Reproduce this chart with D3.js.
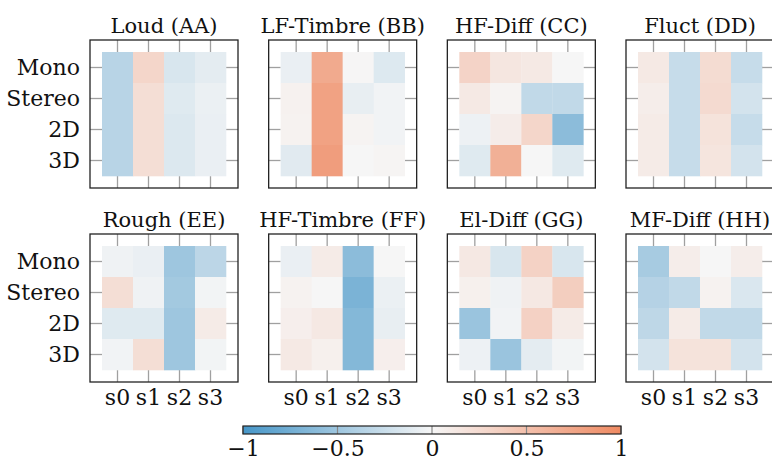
<!DOCTYPE html>
<html><head><meta charset="utf-8">
<script src="https://cdn.jsdelivr.net/npm/d3@7"></script>
<style>
body{margin:0;background:#fff}
svg{display:block}
svg text{font-family:"DejaVu Serif",serif !important;fill:#111}
</style></head><body>
<svg id="c" width="772" height="463"></svg>
<script>
const titles = ["Loud (AA)","LF-Timbre (BB)","HF-Diff (CC)","Fluct (DD)","Rough (EE)","HF-Timbre (FF)","El-Diff (GG)","MF-Diff (HH)"];
const rowLabels = ["Mono","Stereo","2D","3D"];
const colLabels = ["s0","s1","s2","s3"];
// each array: rows (Mono, Stereo, 2D, 3D) x columns (s0..s3)
const loudAA     = [[-0.35,0.30,-0.17,-0.10],[-0.35,0.22,-0.13,-0.06],[-0.35,0.22,-0.15,-0.07],[-0.35,0.22,-0.15,-0.07]];
const lfTimbreBB = [[-0.07,0.70,0.01,-0.14],[0.05,0.78,-0.08,-0.03],[0.04,0.78,0.03,-0.03],[-0.12,0.82,0.00,0.02]];
const hfDiffCC   = [[0.32,0.15,0.12,0.00],[0.12,0.03,-0.30,-0.30],[-0.05,0.09,0.30,-0.60],[-0.13,0.65,0.00,-0.13]];
const fluctDD    = [[0.12,-0.27,0.24,-0.27],[0.08,-0.27,0.26,-0.20],[0.10,-0.27,0.18,-0.27],[0.10,-0.27,0.16,-0.20]];
const roughEE    = [[-0.04,-0.07,-0.50,-0.33],[0.22,-0.04,-0.47,-0.02],[-0.13,-0.13,-0.50,0.10],[-0.03,0.22,-0.50,-0.02]];
const hfTimbreFF = [[-0.07,0.10,-0.60,0.00],[0.04,0.00,-0.70,-0.06],[0.07,0.13,-0.65,-0.08],[0.12,0.06,-0.65,0.07]];
const elDiffGG   = [[0.13,-0.17,0.33,-0.17],[0.06,-0.04,0.13,0.37],[-0.52,-0.03,0.34,0.10],[-0.05,-0.52,-0.10,-0.02]];
const mfDiffHH   = [[-0.45,0.08,0.00,0.08],[-0.37,-0.30,0.04,-0.16],[-0.32,0.10,-0.30,-0.30],[-0.20,0.18,0.18,-0.20]];
const panelValues = [loudAA,lfTimbreBB,hfDiffCC,fluctDD,roughEE,hfTimbreFF,elDiffGG,mfDiffHH];
const cbTicks = [-1,-0.5,0,0.5,1];

const FONT = '"DejaVu Serif",serif';
const FS = 22, FT = 21;
const svg = d3.select("#c");
const color = d3.scaleLinear().domain([-1,0,1]).range(["#4696c8","#f6f6f6","#ef8a62"]).clamp(true);

const size = 148, inset = 12;
const panelLeft = d3.scaleLinear().domain([0,3]).range([90,626]);
const panelTop = d3.scaleOrdinal().domain([0,1]).range([40,234]);
const x = d3.scaleBand().domain(colLabels).range([inset,size-inset]);
const y = d3.scaleBand().domain(rowLabels).range([inset,size-inset]);

panelValues.forEach((vals,i)=>{
  const c = i%4, r = Math.floor(i/4);
  const g = svg.append("g").attr("transform",`translate(${panelLeft(c)},${panelTop(r)})`);
  const tickStyle = sel => { sel.select(".domain").remove(); sel.selectAll("line").attr("stroke","#a0a0a0").attr("stroke-width",1.3); sel.selectAll("text").remove(); };
  g.append("g").call(d3.axisTop(x).tickSize(-inset)).call(tickStyle);
  g.append("g").attr("transform",`translate(0,${size})`).call(d3.axisBottom(x).tickSize(-inset)).call(tickStyle);
  g.append("g").call(d3.axisLeft(y).tickSize(-inset)).call(tickStyle);
  g.append("g").attr("transform",`translate(${size},0)`).call(d3.axisRight(y).tickSize(-inset)).call(tickStyle);
  const cells = [];
  vals.forEach((row,ri)=>row.forEach((v,ci)=>cells.push({r:rowLabels[ri],c:colLabels[ci],v})));
  g.selectAll("rect.cell").data(cells).join("rect").attr("class","cell")
    .attr("x",d=>x(d.c)).attr("y",d=>y(d.r))
    .attr("width",x.bandwidth()+0.3).attr("height",y.bandwidth()+0.3)
    .attr("fill",d=>color(d.v));
  g.append("rect").attr("width",size).attr("height",size).attr("fill","none").attr("stroke","#222").attr("stroke-width",1.3);
  g.append("text").attr("x",size/2).attr("y",-7).attr("text-anchor","middle")
    .attr("font-size",FT).attr("font-family",FONT).text(titles[i]);
  const lab = sel => { sel.attr("font-family",FONT).attr("font-size",FS); sel.select(".domain").remove(); sel.selectAll("line").remove(); sel.selectAll("text").attr("fill","#111"); };
  if (c===0) g.append("g").call(d3.axisLeft(y).tickSize(0).tickPadding(10)).call(lab);
  if (r===1) g.append("g").attr("transform",`translate(0,${size})`).call(d3.axisBottom(x).tickSize(0).tickPadding(7)).call(lab);
});

// colorbar
const cb = d3.scaleLinear().domain([-1,1]).range([243,621]);
const defs = svg.append("defs");
const grad = defs.append("linearGradient").attr("id","cbg").attr("x1","0%").attr("x2","100%");
d3.range(0,1.0001,0.05).forEach(t=>grad.append("stop").attr("offset",(t*100)+"%").attr("stop-color",color(-1+2*t)));
const cbTop = 426, cbH = 8;
svg.append("rect").attr("x",cb(-1)).attr("y",cbTop).attr("width",cb(1)-cb(-1)).attr("height",cbH).attr("fill","url(#cbg)");
const cbAxis = svg.append("g").attr("transform",`translate(0,${cbTop+cbH})`)
  .call(d3.axisBottom(cb).tickValues(cbTicks).tickSize(0).tickPadding(6).tickFormat(d3.format("")));
cbAxis.attr("font-family",FONT).attr("font-size",FS);
cbAxis.select(".domain").remove();
cbAxis.selectAll("text").attr("fill","#111");
svg.append("g").selectAll("line").data(cbTicks).join("line")
  .attr("x1",d=>cb(d)).attr("x2",d=>cb(d)).attr("y1",cbTop).attr("y2",cbTop+cbH)
  .attr("stroke","#888").attr("stroke-width",1.2);
svg.append("rect").attr("x",cb(-1)).attr("y",cbTop).attr("width",cb(1)-cb(-1)).attr("height",cbH)
  .attr("fill","none").attr("stroke","#222").attr("stroke-width",1.2);
</script>
</body></html>
